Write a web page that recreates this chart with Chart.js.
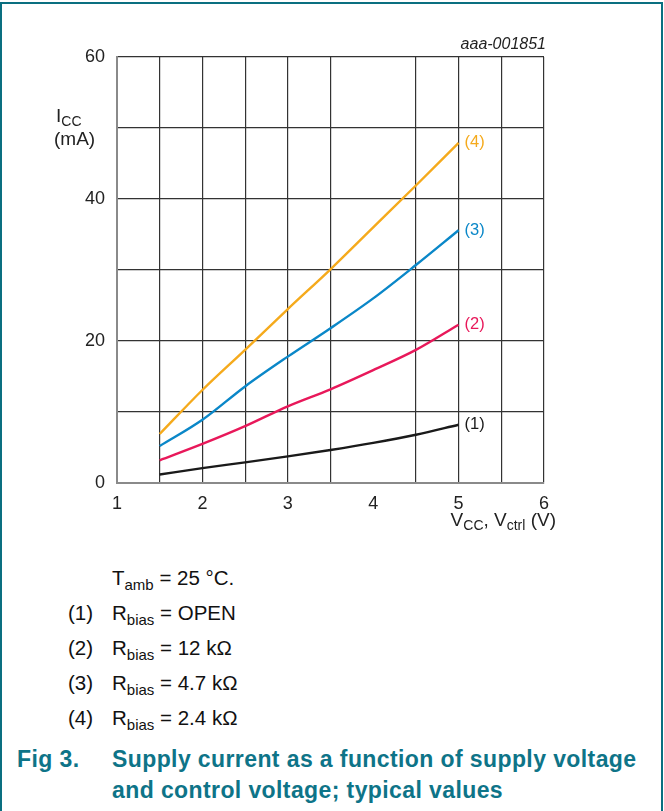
<!DOCTYPE html>
<html>
<head>
<meta charset="utf-8">
<script src="https://cdn.jsdelivr.net/npm/chart.js@4"></script>
<style>
  body { margin: 0; background: #fff; font-family: "Liberation Sans", Arial, sans-serif; }
  #frame { position: absolute; left: 0; top: 2px; width: 659px; height: 820px; border: 2px solid #0a6f80; border-bottom: none; }
  #wrap { position: absolute; left: 0; top: 0; width: 664px; height: 540px; }
  .note { position: absolute; font-size: 20.5px; color: #111; white-space: nowrap; }
  .note sub { font-size: 15px; vertical-align: -5px; }
  .cap { position: absolute; font-size: 23px; font-weight: bold; color: #0e7488; letter-spacing: 0.4px; white-space: nowrap; }
</style>
</head>
<body>
<div id="frame"></div>
<div id="wrap"><canvas id="iccChart" width="664" height="540"></canvas></div>

<div class="note" style="left:112px; top:566px;">T<sub>amb</sub> = 25 °C.</div>
<div class="note" style="left:68px; top:601px;">(1)</div>
<div class="note" style="left:112px; top:601px;">R<sub>bias</sub> = OPEN</div>
<div class="note" style="left:68px; top:636px;">(2)</div>
<div class="note" style="left:112px; top:636px;">R<sub>bias</sub> = 12 kΩ</div>
<div class="note" style="left:68px; top:671px;">(3)</div>
<div class="note" style="left:112px; top:671px;">R<sub>bias</sub> = 4.7 kΩ</div>
<div class="note" style="left:68px; top:706px;">(4)</div>
<div class="note" style="left:112px; top:706px;">R<sub>bias</sub> = 2.4 kΩ</div>
<div class="cap" style="left:17px; top:744px; line-height:31px;">Fig 3.</div>
<div class="cap" style="left:112px; top:744px; line-height:31px;">Supply current as a function of supply voltage<br>and control voltage; typical values</div>

<script>
const vcc = [1.5, 2, 2.5, 3, 3.5, 4, 4.5, 5];
const iccOpen = [1.2, 2.1, 2.9, 3.75, 4.65, 5.65, 6.8, 8.2];
const icc12k = [3.2, 5.5, 8.0, 10.8, 13.2, 15.9, 18.75, 22.3];
const icc4k7 = [5.2, 8.9, 13.6, 17.8, 21.8, 26.0, 30.7, 35.6];
const icc2k4 = [6.9, 13.1, 18.75, 24.5, 30.1, 36.0, 41.9, 47.9];
const curveLabels = ['(1)', '(2)', '(3)', '(4)'];
const curveColors = ['#1a1a1a', '#e8185a', '#0a87c8', '#f5aa1c'];
const yTickLabels = [0, 20, 40, 60];
const xTickLabels = [1, 2, 3, 4, 5, 6];

const FONT = '"Liberation Sans", Arial, sans-serif';

function toPoints(ys) {
  return vcc.map((x, i) => ({ x, y: ys[i] }));
}

const series = [iccOpen, icc12k, icc4k7, icc2k4];

// draws text made of [text, size, yShift] pieces, starting at x
function drawRuns(ctx, parts, x, y) {
  parts.forEach(p => {
    ctx.font = p[1] + 'px ' + FONT;
    ctx.fillText(p[0], x, y + p[2]);
    x += ctx.measureText(p[0]).width;
  });
}

function runsWidth(ctx, parts) {
  let w = 0;
  parts.forEach(p => {
    ctx.font = p[1] + 'px ' + FONT;
    w += ctx.measureText(p[0]).width;
  });
  return w;
}

const overlay = {
  id: 'overlay',
  afterDraw(chart) {
    const ctx = chart.ctx;
    ctx.save();
    ctx.textBaseline = 'middle';
    ctx.font = '16.5px ' + FONT;
    chart.data.datasets.forEach((ds, i) => {
      const meta = chart.getDatasetMeta(i);
      const last = meta.data[meta.data.length - 1];
      ctx.fillStyle = curveColors[i];
      ctx.textAlign = 'left';
      ctx.fillText(curveLabels[i], last.x + 6, last.y);
    });

    // id code, top right
    ctx.fillStyle = '#222';
    ctx.font = 'italic 16px ' + FONT;
    ctx.textAlign = 'right';
    ctx.fillText('aaa-001851', chart.chartArea.right + 2, chart.chartArea.top - 12);

    ctx.textAlign = 'left';
    ctx.fillStyle = '#222';
    // y axis title
    drawRuns(ctx, [['I', 19, 0], ['CC', 14, 5]], 56, 117);
    ctx.font = '19px ' + FONT;
    ctx.fillText('(mA)', 54, 140);

    // x axis title
    const parts = [['V', 19, 0], ['CC', 14, 5], [', V', 19, 0], ['ctrl', 14, 5], [' (V)', 19, 0]];
    drawRuns(ctx, parts, 556 - runsWidth(ctx, parts), 521);
    ctx.restore();
  }
};

new Chart(document.getElementById('iccChart').getContext('2d'), {
  type: 'line',
  data: {
    datasets: series.map((ys, i) => ({
      label: curveLabels[i],
      data: toPoints(ys),
      borderColor: curveColors[i],
      borderWidth: 2.4,
      pointRadius: 0,
      fill: false,
      cubicInterpolationMode: 'monotone'
    }))
  },
  options: {
    animation: false,
    responsive: false,
    layout: { padding: { left: 0, right: 120, top: 57, bottom: 0 } },
    plugins: { legend: { display: false }, tooltip: { enabled: false } },
    scales: {
      x: {
        type: 'linear',
        min: 1,
        max: 6,
        afterFit: s => { s.height = 57; },
        border: { display: true, color: '#8a8a8a', width: 2 },
        grid: {
          drawTicks: false,
          lineWidth: 1.2,
          color: c => c.tick && Math.abs(c.tick.value - 4) < 1e-6 ? 'rgba(0,0,0,0)' : '#333'
        },
        ticks: {
          stepSize: 0.5,
          autoSkip: false,
          maxRotation: 0,
          padding: 10,
          color: '#222',
          font: { size: 18, family: FONT },
          callback: v => xTickLabels.includes(v) ? String(v) : ''
        }
      },
      y: {
        min: 0,
        max: 60,
        afterFit: s => { s.width = 117; },
        border: { display: true, color: '#8a8a8a', width: 2 },
        grid: { drawTicks: false, lineWidth: 1.2, color: '#333' },
        ticks: {
          stepSize: 10,
          padding: 12,
          color: '#222',
          font: { size: 18, family: FONT },
          callback: v => yTickLabels.includes(v) ? String(v) : ''
        }
      }
    }
  },
  plugins: [overlay]
});
</script>
</body>
</html>
